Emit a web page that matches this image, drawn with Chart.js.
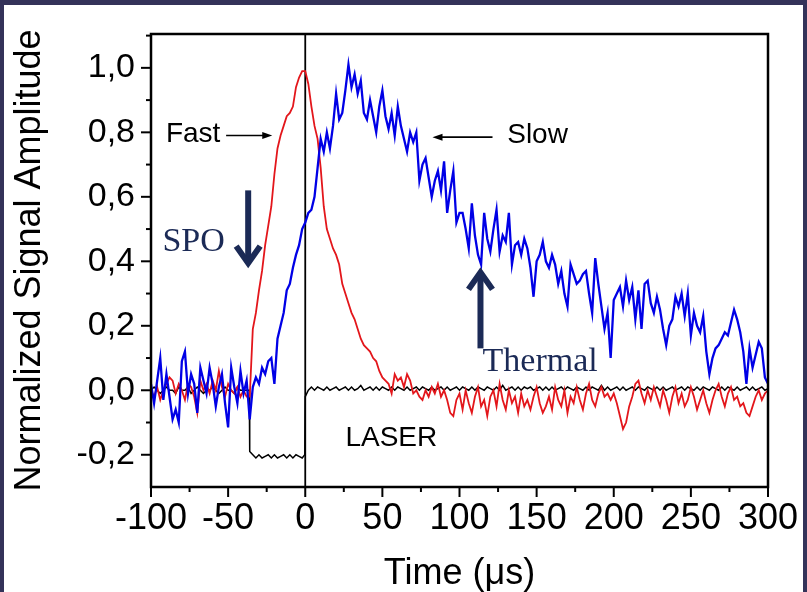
<!DOCTYPE html>
<html>
<head>
<meta charset="utf-8">
<script src="https://cdn.jsdelivr.net/npm/chart.js@4/dist/chart.umd.min.js"></script>
<style>
  html, body { margin: 0; padding: 0; background: #343259; }
  #wrap { position: absolute; left: 4px; top: 5px; width: 799px; height: 587px; background: #fff; }
  canvas { display: block; }
</style>
</head>
<body>
<div id="wrap"><canvas id="chart" width="799" height="587"></canvas></div>
<script>
// time grid: -100 .. 300 us, one sample every 2 us
const T_START = -100;
const T_STEP = 2;

// slow (blue) signal
const SLOW = [
  0.02, -0.04, 0.03, 0.10, -0.03, 0.05, -0.02, -0.09, -0.06, -0.10,
  0.09, 0.12, -0.01, 0.05, 0.02, -0.07, 0.07, 0.03, -0.01, 0.07,
  0.02, -0.05, 0.01, 0.05, -0.04, -0.115, 0.07, 0.01, -0.04, 0.06,
  -0.01, 0.03, -0.09, 0.01, 0.04, 0.02, 0.07, 0.05, 0.09, 0.10,
  0.02, 0.16, 0.20, 0.24, 0.31, 0.33, 0.38, 0.42, 0.45, 0.50,
  0.52, 0.55, 0.56, 0.60, 0.69, 0.78, 0.74, 0.80, 0.75, 0.82,
  0.92, 0.84, 0.86, 0.93, 1.01, 0.94, 0.98, 0.92, 0.96, 0.86,
  0.84, 0.90, 0.85, 0.80, 0.88, 0.93, 0.85, 0.81, 0.86, 0.79,
  0.88, 0.82, 0.78, 0.74, 0.80, 0.77, 0.80, 0.65, 0.70, 0.72,
  0.66, 0.60, 0.65, 0.68, 0.62, 0.71, 0.55, 0.62, 0.68, 0.52,
  0.55, 0.55, 0.50, 0.44, 0.58, 0.48, 0.42, 0.39, 0.55, 0.47,
  0.43, 0.50, 0.56, 0.43, 0.48, 0.46, 0.55, 0.39, 0.45, 0.46,
  0.42, 0.47, 0.44, 0.38, 0.29, 0.40, 0.42, 0.46, 0.40, 0.38,
  0.42, 0.39, 0.33, 0.37, 0.30, 0.26, 0.39, 0.36, 0.33, 0.34,
  0.36, 0.37, 0.30, 0.24, 0.41, 0.33, 0.26, 0.19, 0.24, 0.10,
  0.28, 0.30, 0.32, 0.26, 0.34, 0.28, 0.32, 0.22, 0.31, 0.19,
  0.33, 0.34, 0.27, 0.24, 0.29, 0.25, 0.19, 0.14, 0.20, 0.22,
  0.29, 0.26, 0.30, 0.23, 0.30, 0.17, 0.24, 0.20, 0.18, 0.23,
  0.12, 0.05, 0.10, 0.13, 0.14, 0.16, 0.18, 0.17, 0.21, 0.25,
  0.22, 0.18, 0.12, 0.02, 0.13, 0.07, 0.11, 0.15, 0.13, 0.04,
  0.02
];

// fast (red) signal
const FAST = [
  0.00, -0.02, 0.01, -0.03, 0.00, 0.02, 0.04, 0.03, -0.01, 0.02,
  0.00, -0.03, 0.02, 0.01, -0.02, -0.07, 0.03, 0.00, 0.02, -0.01,
  0.03, 0.00, 0.06, 0.01, -0.02, 0.02, 0.00, -0.01, 0.01, -0.02,
  0.00, -0.02, -0.02, 0.19, 0.24, 0.31, 0.37, 0.45, 0.51, 0.57,
  0.67, 0.75, 0.79, 0.82, 0.85, 0.86, 0.88, 0.94, 0.97, 0.99,
  0.99, 0.95, 0.88, 0.82, 0.78, 0.69, 0.57, 0.50, 0.47, 0.44,
  0.42, 0.39, 0.33, 0.30, 0.27, 0.24, 0.22, 0.19, 0.16, 0.14,
  0.13, 0.12, 0.10, 0.09, 0.06, 0.04, 0.03, 0.02, -0.01, 0.05,
  0.03, 0.04, 0.01, 0.05, 0.03, -0.01, 0.00, -0.02, -0.03, 0.00,
  -0.02, 0.01, -0.01, 0.02, -0.02, 0.00, -0.03, -0.07, -0.08, -0.03,
  -0.01, -0.06, 0.00, -0.04, -0.07, -0.02, 0.01, -0.05, -0.03, -0.08,
  -0.02, 0.00, -0.05, 0.02, -0.03, -0.06, 0.00, -0.04, -0.02, -0.07,
  -0.01, -0.05, -0.03, -0.06, -0.02, 0.01, -0.04, -0.07, -0.05, -0.02,
  -0.06, 0.01, -0.03, -0.05, 0.00, -0.07, -0.02, -0.04, 0.01, -0.03,
  -0.06, -0.01, 0.02, -0.03, -0.05, -0.01, 0.01, -0.02, -0.01, -0.03,
  -0.01, -0.04, -0.08, -0.12, -0.10, -0.05, -0.02, 0.02, 0.03, -0.01,
  -0.04, 0.00, -0.03, 0.01, -0.02, -0.05, 0.00, -0.03, -0.07, -0.02,
  0.01, -0.04, -0.01, -0.05, -0.03, 0.01, -0.02, -0.06, -0.03, 0.00,
  -0.04, -0.07, -0.03, 0.00, 0.02, -0.02, -0.05, -0.01, 0.01, -0.03,
  -0.02, -0.05, -0.04, -0.07, -0.08, -0.05, -0.02, 0.00, -0.03, -0.01,
  0.00
];

// laser (black) pulse
const LASER = [
  0.00, 0.01, 0.00, -0.01, 0.00, 0.01, 0.00, 0.00, -0.01, 0.01,
  0.00, 0.00, 0.01, -0.01, 0.00, 0.01, 0.00, -0.01, 0.00, 0.00,
  0.01, 0.00, -0.01, 0.00, 0.01, 0.00, 0.00, -0.01, 0.01, 0.00,
  0.00, 0.00, -0.19, -0.20, -0.21, -0.20, -0.21, -0.205, -0.20, -0.21,
  -0.20, -0.21, -0.205, -0.20, -0.21, -0.20, -0.21, -0.20, -0.205, -0.21,
  -0.02, 0.00, 0.01, 0.00, 0.01, 0.005, 0.00, 0.01, 0.00, 0.005,
  0.01, 0.00, 0.005, 0.01, 0.00, 0.01, 0.00, 0.005, 0.015, 0.00,
  0.005, 0.01, 0.00, 0.01, 0.00, 0.01, 0.005, 0.00, 0.01, 0.00,
  0.01, 0.005, 0.00, 0.01, 0.00, 0.005, 0.01, 0.00, 0.01, 0.005,
  0.00, 0.01, 0.00, 0.005, 0.01, 0.00, 0.01, 0.00, 0.005, 0.01,
  0.00, 0.01, 0.005, 0.00, 0.01, 0.00, 0.01, 0.005, 0.00, 0.01,
  0.005, 0.00, 0.01, 0.00, 0.015, 0.00, 0.005, 0.01, 0.00, 0.01,
  0.00, 0.01, 0.005, 0.01, 0.00, 0.005, 0.01, 0.00, 0.01, 0.00,
  0.01, 0.00, 0.005, 0.01, 0.00, 0.01, 0.005, 0.00, 0.01, 0.005,
  0.00, 0.01, 0.00, 0.01, 0.005, 0.00, 0.015, 0.00, 0.01, 0.00,
  0.005, 0.01, 0.00, 0.01, 0.00, 0.005, 0.01, 0.00, 0.01, 0.005,
  0.00, 0.01, 0.005, 0.00, 0.01, 0.00, 0.01, 0.00, 0.005, 0.01,
  0.00, 0.005, 0.01, 0.00, 0.01, 0.005, 0.00, 0.01, 0.00, 0.01,
  0.005, 0.00, 0.01, 0.005, 0.00, 0.01, 0.00, 0.01, 0.005, 0.00,
  0.01, 0.00, 0.005, 0.01, 0.00, 0.01, 0.00, 0.005, 0.01, 0.00,
  0.005
];
// sharp laser edges (extra samples between grid points)
const LASER_EDGE_T = [-36.3, -0.3];
const LASER_EDGE_V = [0.00, -0.20];

const X_LABEL_EVERY = 50;
const Y_LABEL_EVERY = 0.2;

const toPoints = (arr) => arr.map((v, i) => ({ x: T_START + i * T_STEP, y: v }));
const laserPoints = toPoints(LASER)
  .concat(LASER_EDGE_T.map((t, i) => ({ x: t, y: LASER_EDGE_V[i] })))
  .sort((a, b) => a.x - b.x);

const SANS = "'Liberation Sans', Arial, sans-serif";
const SERIF = "'Liberation Serif', 'Times New Roman', serif";
const NAVY = "#1b2a56";

// text notes, anchored in data units
const NOTES = [
  { text: "Fast", x: -72.7, y: 0.795, font: "28px " + SANS, color: "#000" },
  { text: "Slow", x: 150.6, y: 0.79, font: "28px " + SANS, color: "#000" },
  { text: "LASER", x: 55.8, y: -0.15, font: "28px " + SANS, color: "#000" },
  { text: "SPO", x: -72.4, y: 0.46, font: "34px " + SERIF, color: NAVY },
  { text: "Thermal", x: 152.3, y: 0.087, font: "34px " + SERIF, color: NAVY },
];
const THIN_ARROWS = [
  { from: [-51.3, 0.79], to: [-21.4, 0.79] },
  { from: [121.4, 0.785], to: [82.5, 0.785] },
];
const BIG_ARROWS = [
  { from: [-37, 0.62], to: [-37, 0.385] },
  { from: [113.6, 0.13], to: [113.6, 0.375] },
];

const framePlugin = {
  id: "frame",
  beforeDatasetsDraw(chart) {
    const { ctx, chartArea: a, scales: { x } } = chart;
    const x0 = x.getPixelForValue(0);
    ctx.save();
    ctx.strokeStyle = "#000";
    ctx.lineWidth = 1.8;
    ctx.beginPath();
    ctx.moveTo(x0, a.top);
    ctx.lineTo(x0, a.bottom);
    ctx.stroke();
    ctx.restore();
  },
  afterDatasetsDraw(chart) {
    const { ctx, chartArea: a, scales: { x, y } } = chart;
    ctx.save();
    ctx.strokeStyle = "#000";
    ctx.lineWidth = 2.5;
    ctx.strokeRect(a.left, a.top, a.right - a.left, a.bottom - a.top);
    ctx.lineWidth = 2;
    x.ticks.forEach((t) => {
      const px = x.getPixelForValue(t.value);
      const len = t.label ? 10 : 5;
      ctx.beginPath();
      ctx.moveTo(px, a.bottom);
      ctx.lineTo(px, a.bottom + len);
      ctx.stroke();
    });
    y.ticks.forEach((t) => {
      const py = y.getPixelForValue(t.value);
      const len = t.label ? 10 : 5;
      ctx.beginPath();
      ctx.moveTo(a.left, py);
      ctx.lineTo(a.left - len, py);
      ctx.stroke();
    });
    ctx.restore();
  },
  afterDraw(chart) {
    const { ctx, scales: { x, y } } = chart;
    const P = (p) => [x.getPixelForValue(p[0]), y.getPixelForValue(p[1])];
    ctx.save();
    ctx.textAlign = "center";
    ctx.textBaseline = "middle";
    NOTES.forEach((n) => {
      ctx.font = n.font;
      ctx.fillStyle = n.color;
      ctx.fillText(n.text, x.getPixelForValue(n.x), y.getPixelForValue(n.y));
    });
    // thin black pointers
    ctx.strokeStyle = "#000";
    ctx.fillStyle = "#000";
    ctx.lineWidth = 1.6;
    THIN_ARROWS.forEach((ar) => {
      const [x1, y1] = P(ar.from);
      const [x2, y2] = P(ar.to);
      const dir = Math.sign(x2 - x1);
      ctx.beginPath();
      ctx.moveTo(x1, y1);
      ctx.lineTo(x2 - dir * 6, y2);
      ctx.stroke();
      ctx.beginPath();
      ctx.moveTo(x2, y2);
      ctx.lineTo(x2 - dir * 10, y2 - 3.5);
      ctx.lineTo(x2 - dir * 10, y2 + 3.5);
      ctx.closePath();
      ctx.fill();
    });
    // thick navy arrows
    ctx.strokeStyle = NAVY;
    ctx.lineWidth = 6;
    ctx.lineJoin = "miter";
    BIG_ARROWS.forEach((ar) => {
      const [x1, y1] = P(ar.from);
      const [x2, y2] = P(ar.to);
      const dir = Math.sign(y2 - y1);
      ctx.beginPath();
      ctx.moveTo(x1, y1);
      ctx.lineTo(x2, y2 - dir * 3);
      ctx.stroke();
      ctx.beginPath();
      ctx.moveTo(x2 - 12, y2 - dir * 20);
      ctx.lineTo(x2, y2 - dir * 3);
      ctx.lineTo(x2 + 12, y2 - dir * 20);
      ctx.stroke();
    });
    ctx.restore();
  },
};

new Chart(document.getElementById("chart"), {
  type: "line",
  data: {
    datasets: [
      { label: "Slow", data: toPoints(SLOW), borderColor: "#0000e6", borderWidth: 2.3, pointRadius: 0, tension: 0 },
      { label: "Fast", data: toPoints(FAST), borderColor: "#e3161b", borderWidth: 1.8, pointRadius: 0, tension: 0 },
      { label: "LASER", data: laserPoints, borderColor: "#000", borderWidth: 1.5, pointRadius: 0, tension: 0 },
    ],
  },
  options: {
    responsive: false,
    animation: false,
    layout: { padding: { left: 0, top: 29, right: 35, bottom: -4 } },
    plugins: { legend: { display: false }, tooltip: { enabled: false } },
    scales: {
      x: {
        type: "linear",
        min: -100,
        max: 300,
        grid: { display: false, drawTicks: false },
        border: { display: false },
        afterFit: (s) => { s.height = 109; s.paddingLeft = 0; s.paddingRight = 0; },
        ticks: {
          stepSize: 25,
          autoSkip: false,
          maxRotation: 0,
          padding: 10,
          color: "#000",
          font: { family: SANS, size: 36 },
          callback: (v) => (Math.round(v) % X_LABEL_EVERY === 0 ? String(v) : ""),
        },
        title: {
          display: true,
          text: "Time (μs)",
          color: "#000",
          font: { family: SANS, size: 36 },
          padding: { top: 0, bottom: 0 },
        },
      },
      y: {
        min: -0.3,
        max: 1.105,
        grid: { display: false, drawTicks: false },
        border: { display: false },
        afterFit: (s) => { s.width = 147; s.paddingTop = 0; s.paddingBottom = 0; },
        ticks: {
          stepSize: 0.1,
          includeBounds: false,
          autoSkip: false,
          padding: 16,
          color: "#000",
          font: { family: SANS, size: 34 },
          callback: (v) => {
            const k = Math.round(v * 10);
            if (k % Math.round(Y_LABEL_EVERY * 10) !== 0) return "";
            return (k / 10).toFixed(1).replace(".", ",");
          },
        },
        title: {
          display: true,
          text: "Normalized Signal Amplitude",
          color: "#000",
          font: { family: SANS, size: 36 },
          padding: { top: 4, bottom: 0 },
        },
      },
    },
  },
  plugins: [framePlugin],
});
</script>
</body>
</html>
